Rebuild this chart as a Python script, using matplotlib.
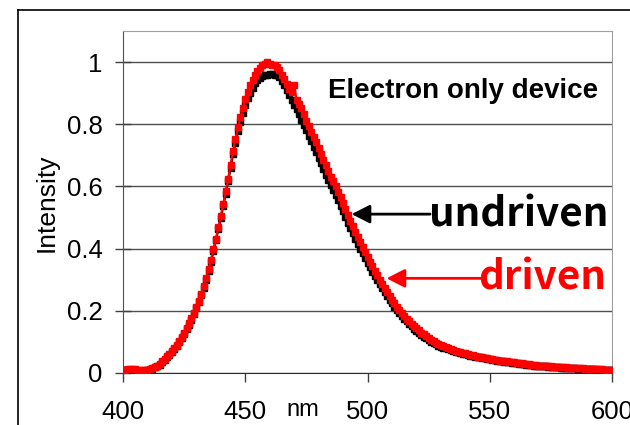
import matplotlib
matplotlib.use("Agg")
import matplotlib.pyplot as plt
from matplotlib.lines import Line2D
import numpy as np

plt.rcParams['font.family'] = ['Liberation Sans', 'DejaVu Sans']

# wavelength grid (nm), 1 nm steps
wavelength = np.arange(400, 601)

driven = [
    0.010, 0.011, 0.012, 0.012, 0.013, 0.012, 0.010, 0.009, 0.009, 0.010,
    0.011, 0.013, 0.016, 0.020, 0.024, 0.030, 0.037, 0.045, 0.054, 0.062,
    0.071, 0.080, 0.090, 0.103, 0.117, 0.130, 0.145, 0.160, 0.177, 0.194,
    0.213, 0.233, 0.255, 0.280, 0.305, 0.333, 0.365, 0.398, 0.432, 0.468,
    0.505, 0.545, 0.585, 0.625, 0.670, 0.715, 0.752, 0.790, 0.822, 0.852,
    0.880, 0.903, 0.925, 0.942, 0.958, 0.972, 0.982, 0.990, 0.994, 1.000,
    0.995, 0.992, 0.990, 0.985, 0.975, 0.960, 0.945, 0.928, 0.915, 0.905,
    0.925, 0.877, 0.866, 0.852, 0.832, 0.812, 0.793, 0.775, 0.758, 0.742,
    0.724, 0.705, 0.686, 0.668, 0.650, 0.632, 0.616, 0.600, 0.583, 0.565,
    0.546, 0.528, 0.508, 0.490, 0.472, 0.455, 0.437, 0.420, 0.404, 0.389,
    0.374, 0.358, 0.343, 0.328, 0.314, 0.300, 0.286, 0.273, 0.260, 0.248,
    0.236, 0.224, 0.213, 0.203, 0.193, 0.184, 0.175, 0.167, 0.159, 0.151,
    0.144, 0.137, 0.130, 0.124, 0.118, 0.112, 0.107, 0.102, 0.097, 0.093,
    0.089, 0.086, 0.083, 0.080, 0.077, 0.074, 0.071, 0.069, 0.067, 0.065,
    0.063, 0.061, 0.059, 0.057, 0.055, 0.053, 0.052, 0.050, 0.049, 0.047,
    0.046, 0.044, 0.043, 0.042, 0.040, 0.039, 0.038, 0.037, 0.036, 0.035,
    0.034, 0.033, 0.032, 0.031, 0.030, 0.029, 0.028, 0.027, 0.026, 0.025,
    0.024, 0.024, 0.023, 0.022, 0.021, 0.021, 0.020, 0.020, 0.019, 0.019,
    0.018, 0.018, 0.017, 0.017, 0.016, 0.016, 0.016, 0.015, 0.015, 0.014,
    0.014, 0.014, 0.013, 0.013, 0.012, 0.012, 0.012, 0.011, 0.011, 0.011,
    0.010,
]

undriven = [
    0.009, 0.009, 0.010, 0.010, 0.011, 0.010, 0.008, 0.007, 0.007, 0.008,
    0.009, 0.011, 0.014, 0.018, 0.022, 0.027, 0.034, 0.042, 0.050, 0.058,
    0.067, 0.076, 0.086, 0.099, 0.112, 0.125, 0.140, 0.155, 0.172, 0.189,
    0.208, 0.228, 0.250, 0.274, 0.299, 0.327, 0.358, 0.392, 0.428, 0.462,
    0.498, 0.537, 0.577, 0.616, 0.660, 0.703, 0.740, 0.777, 0.808, 0.836,
    0.862, 0.884, 0.902, 0.918, 0.932, 0.942, 0.950, 0.955, 0.958, 0.960,
    0.963, 0.963, 0.960, 0.958, 0.952, 0.940, 0.925, 0.910, 0.895, 0.878,
    0.862, 0.848, 0.833, 0.815, 0.797, 0.780, 0.763, 0.745, 0.728, 0.710,
    0.692, 0.674, 0.656, 0.638, 0.621, 0.605, 0.590, 0.573, 0.556, 0.538,
    0.520, 0.501, 0.484, 0.466, 0.449, 0.432, 0.416, 0.400, 0.385, 0.370,
    0.355, 0.340, 0.326, 0.312, 0.298, 0.285, 0.272, 0.260, 0.248, 0.236,
    0.224, 0.213, 0.203, 0.193, 0.184, 0.175, 0.166, 0.158, 0.150, 0.143,
    0.136, 0.129, 0.123, 0.117, 0.111, 0.106, 0.101, 0.096, 0.092, 0.088,
    0.085, 0.082, 0.079, 0.076, 0.073, 0.071, 0.068, 0.066, 0.064, 0.062,
    0.060, 0.058, 0.056, 0.054, 0.053, 0.051, 0.050, 0.048, 0.047, 0.045,
    0.044, 0.042, 0.041, 0.040, 0.038, 0.037, 0.036, 0.035, 0.034, 0.033,
    0.032, 0.031, 0.030, 0.029, 0.028, 0.027, 0.026, 0.025, 0.024, 0.024,
    0.023, 0.022, 0.021, 0.021, 0.020, 0.019, 0.019, 0.018, 0.018, 0.017,
    0.017, 0.016, 0.016, 0.015, 0.015, 0.015, 0.014, 0.014, 0.013, 0.013,
    0.013, 0.012, 0.012, 0.012, 0.011, 0.011, 0.011, 0.010, 0.010, 0.010,
    0.009,
]

xticks = [400, 450, 500, 550, 600]
yticks = [0, 0.2, 0.4, 0.6, 0.8, 1.0]
ytick_labels = ["0", "0.2", "0.4", "0.6", "0.8", "1"]

fig = plt.figure(figsize=(6.3, 4.25), dpi=100)
ax = fig.add_axes([123 / 630, 1 - 373 / 425, 489 / 630, 342 / 425])

# outer frame of the pasted chart (top and left edge visible)
fig.add_artist(Line2D([18 / 630, 18 / 630], [0, 1 - 10 / 425], color='black', lw=1.2))
fig.add_artist(Line2D([18 / 630, 1], [1 - 10 / 425, 1 - 10 / 425], color='black', lw=1.2))

ax.plot(wavelength, undriven, color='black', lw=1.6, marker='s', ms=4.5, mec='black', zorder=3)
ax.plot(wavelength, driven, color='red', lw=1.6, marker='s', ms=4.5, mec='red', zorder=4)

ax.set_xlim(400, 600)
ax.set_ylim(0, 1.1)
ax.set_xticks(xticks)
ax.set_yticks(yticks)
ax.set_yticklabels(ytick_labels)
ax.grid(axis='y', color='#505050', lw=1)
ax.set_axisbelow(True)

ax.tick_params(axis='x', direction='out', length=6.5, width=1, color='#404040', pad=13, labelsize=18.5)
ax.tick_params(axis='y', direction='inout', length=11.5, width=1, color='#404040', pad=9, labelsize=18.5)

ax.spines['left'].set_color('#505050')
ax.spines['bottom'].set_color('#303030')
ax.spines['top'].set_color('#a0a0a0')
ax.spines['right'].set_color('#a0a0a0')

fig.text(47 / 630, 1 - 203 / 425, "Intensity", rotation=90, ha='center', va='center', fontsize=19)
ax.text(473.6, -0.108, "nm", transform=ax.get_xaxis_transform(), ha='center', va='center', fontsize=17)

ax.text(539, 0.908, "Electron only device", ha='center', va='center', fontsize=20, fontweight='bold')

ax.text(598.4, 0.4727, "undriven", ha='right', va='baseline', fontsize=29,
        fontweight='bold', family=['Noto Sans CJK KR', 'DejaVu Sans'], color='black')
ax.text(597.8, 0.267, "driven", ha='right', va='baseline', fontsize=29,
        fontweight='bold', family=['Noto Sans CJK KR', 'DejaVu Sans'], color='red')

ax.annotate("", xy=(493.5, 0.511), xytext=(525.6, 0.511),
            arrowprops=dict(arrowstyle='-|>,head_length=0.55,head_width=0.28', color='black',
                            lw=2, mutation_scale=20, shrinkA=0, shrinkB=0), zorder=5)
ax.annotate("", xy=(507.8, 0.3045), xytext=(546.6, 0.3045),
            arrowprops=dict(arrowstyle='-|>,head_length=0.55,head_width=0.28', color='red',
                            lw=2, mutation_scale=20, shrinkA=0, shrinkB=0), zorder=5)

fig.savefig("out.png", dpi=100)
